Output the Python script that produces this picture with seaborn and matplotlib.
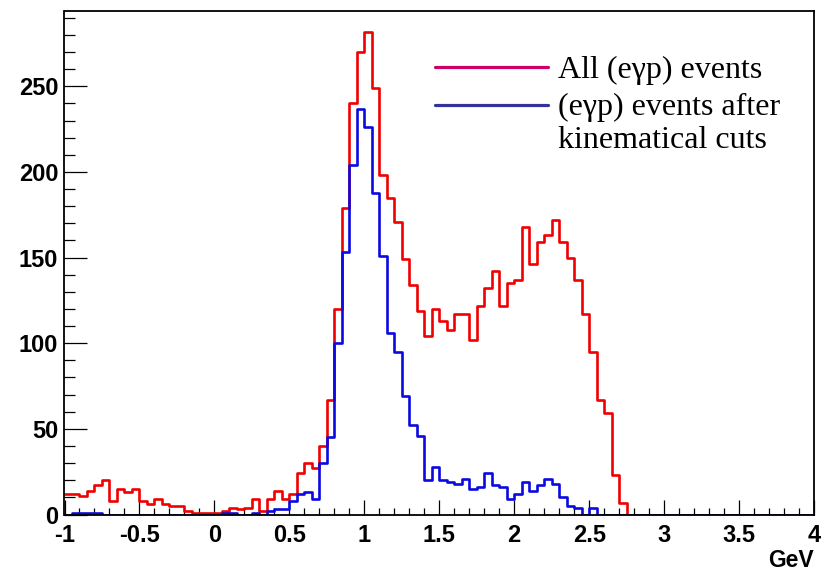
import numpy as np
import pandas as pd
import matplotlib
matplotlib.use("Agg")
import matplotlib.pyplot as plt
import seaborn as sns
from matplotlib.lines import Line2D
from matplotlib.ticker import MultipleLocator

# ---- data: 100 bins of 0.05 GeV from -1 to 4 ----
x_min, x_max, n_bins = -1.0, 4.0, 100

all_events = [
    12, 12, 11, 14, 17, 20, 8, 15, 13, 15,        # -1.00 .. -0.55
    8, 6, 9, 6, 5, 5, 2, 1, 1, 1,                 # -0.50 .. -0.05
    1, 2, 4, 3, 4, 9, 2, 9, 14, 9,                # 0.00 .. 0.45
    12, 24, 30, 27, 40, 67, 120, 179, 240, 270,   # 0.50 .. 0.95
    282, 249, 198, 185, 171, 149, 134, 119, 104, 120,  # 1.00 .. 1.45
    113, 108, 117, 117, 102, 122, 132, 142, 122, 135,  # 1.50 .. 1.95
    137, 168, 146, 159, 163, 172, 159, 150, 137, 117,  # 2.00 .. 2.45
    95, 67, 59, 23, 7, 0, 0, 0, 0, 0,             # 2.50 .. 2.95
    0, 0, 0, 0, 0, 0, 0, 0, 0, 0,                 # 3.00 .. 3.45
    0, 0, 0, 0, 0, 0, 0, 0, 0, 0,                 # 3.50 .. 3.95
]

cut_events = [
    0, 1, 1, 1, 1, 0, 0, 0, 0, 0,                 # -1.00 .. -0.55
    0, 0, 0, 0, 0, 0, 0, 0, 0, 0,                 # -0.50 .. -0.05
    0, 1, 1, 0, 0, 1, 0, 2, 3, 3,                 # 0.00 .. 0.45
    8, 12, 13, 9, 30, 45, 100, 153, 204, 237,     # 0.50 .. 0.95
    226, 188, 151, 106, 95, 69, 52, 46, 20, 28,   # 1.00 .. 1.45
    20, 19, 18, 21, 15, 16, 24, 17, 16, 9,        # 1.50 .. 1.95
    12, 19, 14, 17, 21, 18, 10, 5, 4, 0,          # 2.00 .. 2.45
    4, 0, 0, 0, 0, 0, 0, 0, 0, 0,                 # 2.50 .. 2.95
    0, 0, 0, 0, 0, 0, 0, 0, 0, 0,                 # 3.00 .. 3.45
    0, 0, 0, 0, 0, 0, 0, 0, 0, 0,                 # 3.50 .. 3.95
]

legend_labels = ["All (e\u03b3p) events", "(e\u03b3p) events after", "kinematical cuts"]
x_label = "GeV"

# ---- build ----
edges = np.linspace(x_min, x_max, n_bins + 1)
centers = 0.5 * (edges[:-1] + edges[1:])
df = pd.DataFrame({"center": centers, "all": all_events, "cut": cut_events})

sns.set_theme(style="white")
plt.rcParams['font.family'] = ['Liberation Sans', 'DejaVu Sans']
plt.rcParams['text.color'] = 'black'
plt.rcParams['xtick.color'] = 'black'
plt.rcParams['ytick.color'] = 'black'
plt.rcParams['axes.labelcolor'] = 'black'

W, H = 829, 571
fig = plt.figure(figsize=(W / 100, H / 100), dpi=100)
fig.patch.set_facecolor("white")
ax_l, ax_r, ax_b, ax_t = 64.5, 814.0, 514.5, 11.0
ax = fig.add_axes([ax_l / W, 1 - ax_b / H, (ax_r - ax_l) / W, (ax_b - ax_t) / H])
ax.set_facecolor("white")

sns.histplot(data=df, x="center", weights="all", bins=n_bins, binrange=(x_min, x_max),
             element="step", fill=False, color="#f00000", linewidth=1.9, ax=ax)
sns.histplot(data=df, x="center", weights="cut", bins=n_bins, binrange=(x_min, x_max),
             element="step", fill=False, color="#0a0ae0", linewidth=1.9, ax=ax)

ax.set_xlim(x_min, x_max)
ax.set_ylim(0, 294)
ax.set_ylabel("")
ax.set_xlabel(x_label, loc="right", fontsize=16.5, fontweight="bold", labelpad=1,
              color="black")

ax.xaxis.set_major_locator(MultipleLocator(0.5))
ax.xaxis.set_minor_locator(MultipleLocator(0.1))
ax.yaxis.set_major_locator(MultipleLocator(50))
ax.yaxis.set_minor_locator(MultipleLocator(10))
ax.set_xticks(np.arange(-1, 4.01, 0.5))
ax.set_xticklabels(["-1", "-0.5", "0", "0.5", "1", "1.5", "2", "2.5", "3", "3.5", "4"])

ax.tick_params(axis="both", which="both", direction="in", top=False, right=False,
               bottom=True, left=True, color="black", labelcolor="black", width=0.9)
ax.tick_params(axis="x", which="major", length=10.8, pad=7, labelsize=17)
ax.tick_params(axis="x", which="minor", length=5.4)
ax.tick_params(axis="y", which="major", length=16.2, pad=4.5, labelsize=17)
ax.tick_params(axis="y", which="minor", length=8.0)
for lab in ax.get_xticklabels() + ax.get_yticklabels():
    lab.set_fontweight("bold")

for sp in ax.spines.values():
    sp.set_visible(True)
    sp.set_color("black")
    sp.set_linewidth(1.3)

# ---- legend (pasted-style annotation) ----
serif = ['Liberation Serif', 'DejaVu Serif']
fig.add_artist(Line2D([435 / W, 548 / W], [1 - 66.7 / H, 1 - 66.7 / H],
                      color="#cc0066", linewidth=2.3))
fig.add_artist(Line2D([435 / W, 548 / W], [1 - 105 / H, 1 - 105 / H],
                      color="#333399", linewidth=2.3))
for label, base in zip(legend_labels, [78.3, 115.0, 148.3]):
    fig.text(558 / W, 1 - base / H, label, family=serif, fontsize=23,
             ha="left", va="baseline", color="black")

fig.savefig("out.png", dpi=100)
